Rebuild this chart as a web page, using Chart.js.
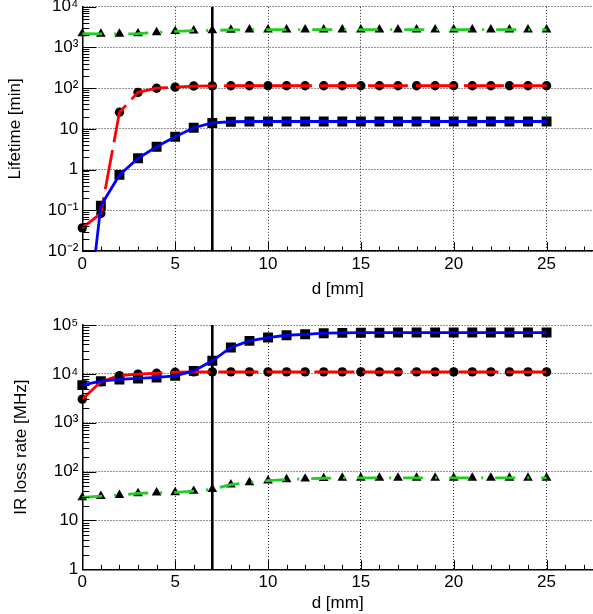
<!DOCTYPE html>
<html><head><meta charset="utf-8">
<script src="https://cdn.jsdelivr.net/npm/chart.js@4"></script>
<style>
html,body{margin:0;padding:0;background:#fff;overflow:hidden;width:593px;height:614px;position:relative}
.box{position:absolute;left:0;width:600px}
</style></head><body>
<div class="box" style="top:-20px;height:320px"><canvas id="c1"></canvas></div>
<div class="box" style="top:280px;height:334px"><canvas id="c2"></canvas></div>
<script>
// ---- data ----
const dValues = [0,1,2,3,4,5,6,7,8,9,10,11,12,13,14,15,16,17,18,19,20,21,22,23,24,25];
const lifetimeBlue  = [1.5e-5,0.13,0.74,1.9,3.65,6.4,10.7,14,15,15.2,15.2,15.2,15.2,15.2,15.2,15.2,15.2,15.2,15.2,15.2,15.2,15.2,15.2,15.2,15.2,15.2];
const lifetimeRed   = [0.037,0.084,25.6,79,100,106,113,114,115,115,115,115,115,115,115,115,115,115,115,115,115,115,115,115,115,115];
const lifetimeGreen = [2200,2150,2150,2200,2350,2500,2600,2620,2700,2750,2750,2750,2750,2750,2750,2750,2750,2750,2750,2750,2750,2750,2750,2750,2750,2750];
const irBlue  = [5870,7080,7680,8050,8440,9100,11500,18500,34700,47300,55400,61700,64500,68000,69000,69500,69500,70000,70000,70000,70000,70000,70000,70000,70000,70000];
const irRed   = [3040,6870,9200,9860,10300,10800,11000,11000,11000,11000,11000,11000,11000,11000,11000,11000,11000,11000,11000,11000,11000,11000,11000,11000,11000,11000];
const irGreen = [29.7,31.5,33,35.8,37,37.5,40,43.5,54,60,65,69,71.3,73,74,74.5,74.5,74.5,74.5,74.5,74.5,74.5,74.5,74.5,74.5,74.5];
const markerD = 7;
const xMin = 0, xMax = 27.5;
const xMajorTicks = [0,5,10,15,20,25];
const xTickLabels = ['0','5','10','15','20','25'];
const lifetimeMajorTicks = [1e-2,1e-1,1,10,100,1000,10000];
const lifetimeTickLabels = ['10\u207B\u00B2','10\u207B\u00B9','1','10','10\u00B2','10\u00B3','10\u2074'];
const irMajorTicks = [1,10,100,1000,10000,100000];
const irTickLabels = ['1','10','10\u00B2','10\u00B3','10\u2074','10\u2075'];
const xTitle = 'd [mm]';
const lifetimeTitle = 'Lifetime [min]';
const irTitle = 'IR loss rate [MHz]';

const FONT = 'Liberation Sans, Arial, Helvetica, sans-serif';
const BLUE = '#0000ff', RED = '#ff0000', GREEN = '#22cc22';

function pts(arr){ return dValues.map((d,i)=>({x:d,y:arr[i]})); }

function logTicks(majors, labels){
  const t = [];
  majors.forEach((m,i)=>{
    t.push({value:m, isMaj:true, lbl:labels[i]});
    if (i < majors.length-1) for (let k=2;k<=9;k++) t.push({value:m*k, isMaj:false, lbl:''});
  });
  return t;
}
function linTicks(){
  const t = [];
  for (let v=Math.ceil(xMin); v<=xMax; v++){
    const j = xMajorTicks.indexOf(v);
    t.push({value:v, isMaj:j>=0, lbl:j>=0?xTickLabels[j]:''});
  }
  return t;
}

const innerTicks = {
  id:'innerTicks',
  afterDraw(chart){
    const ctx = chart.ctx, a = chart.chartArea;
    ctx.save();
    ctx.strokeStyle = '#000'; ctx.lineWidth = 1;
    const xs = chart.scales.x, ys = chart.scales.y;
    ctx.beginPath();
    xs.ticks.forEach(t=>{
      const p = Math.round(xs.getPixelForValue(t.value))+0.5;
      const L = t.isMaj ? 9 : 4.5;
      ctx.moveTo(p, a.bottom); ctx.lineTo(p, a.bottom-L);
    });
    ys.ticks.forEach(t=>{
      const p = Math.round(ys.getPixelForValue(t.value))+0.5;
      const L = t.isMaj ? 14 : 7;
      ctx.moveTo(a.left, p); ctx.lineTo(a.left+L, p);
    });
    ctx.stroke();
    ctx.restore();
  }
};

function makeChart(id, series, majors, labels, yTitle, yTitlePad, top, bottomH){
  const [b,r,g] = series;
  const yMin = majors[0], yMax = majors[majors.length-1];
  const lineDs = (data,color,dash)=>({data:pts(data), borderColor:color, borderWidth:2.8, borderDash:dash, pointRadius:0, fill:false, tension:0, clip:0});
  const ptDs = (data,style,rad)=>({data:pts(data), showLine:false, pointStyle:style, pointRadius:rad, pointBackgroundColor:'#000', pointBorderWidth:0, pointBorderColor:'#000', clip:8});
  return new Chart(document.getElementById(id), {
    type:'line',
    data:{datasets:[
      lineDs(b,BLUE,[]),
      lineDs(r,RED,[40,8]),
      lineDs(g,GREEN,[20,12,2,12]),
      {data:[{x:markerD,y:yMin},{x:markerD,y:yMax}], borderColor:'#000', borderWidth:2.6, pointRadius:0, clip:0},
      ptDs(b,'rect',7),
      ptDs(r,'circle',4.7),
      ptDs(g,'triangle',5.6)
    ]},
    options:{
      responsive:true, maintainAspectRatio:false, animation:false, devicePixelRatio:1, events:[],
      layout:{padding:{top:top,left:0,right:5.1,bottom:0}},
      plugins:{legend:{display:false},tooltip:{enabled:false},title:{display:false}},
      scales:{
        x:{type:'linear', min:xMin, max:xMax,
          afterBuildTicks:s=>{s.ticks = linTicks();},
          afterFit:s=>{s.height = bottomH;},
          ticks:{autoSkip:false, maxRotation:0, padding:3, color:'#000', font:{family:FONT,size:17},
            callback:(v,i,t)=>t[i].lbl},
          grid:{drawTicks:false, lineWidth:1, color:c=>(c.tick&&c.tick.isMaj)?'#222':'rgba(0,0,0,0)'},
          border:{display:true,color:'#000',width:1.5,dash:[1,2]},
          title:{display:true,text:xTitle,color:'#000',font:{family:FONT,size:17},padding:{top:0,bottom:0}}
        },
        y:{type:'logarithmic', min:yMin, max:yMax,
          afterBuildTicks:s=>{s.ticks = logTicks(majors, labels);},
          afterFit:s=>{s.width = 82.3;},
          ticks:{autoSkip:false, padding:4, color:'#000', font:{family:FONT,size:17},
            callback:(v,i,t)=>t[i].lbl},
          grid:{drawTicks:false, lineWidth:1, color:c=>(c.tick&&c.tick.isMaj)?'#222':'rgba(0,0,0,0)'},
          border:{display:true,color:'#000',width:1.5,dash:[1,2]},
          title:{display:true,text:yTitle,color:'#000',font:{family:FONT,size:17},padding:{top:yTitlePad,bottom:0}}
        }
      }
    },
    plugins:[innerTicks]
  });
}

makeChart('c1',[lifetimeBlue,lifetimeRed,lifetimeGreen],lifetimeMajorTicks,lifetimeTickLabels,lifetimeTitle,5,26.8,49);
makeChart('c2',[irBlue,irRed,irGreen],irMajorTicks,irTickLabels,irTitle,11,45,44.7);
</script>
</body></html>
